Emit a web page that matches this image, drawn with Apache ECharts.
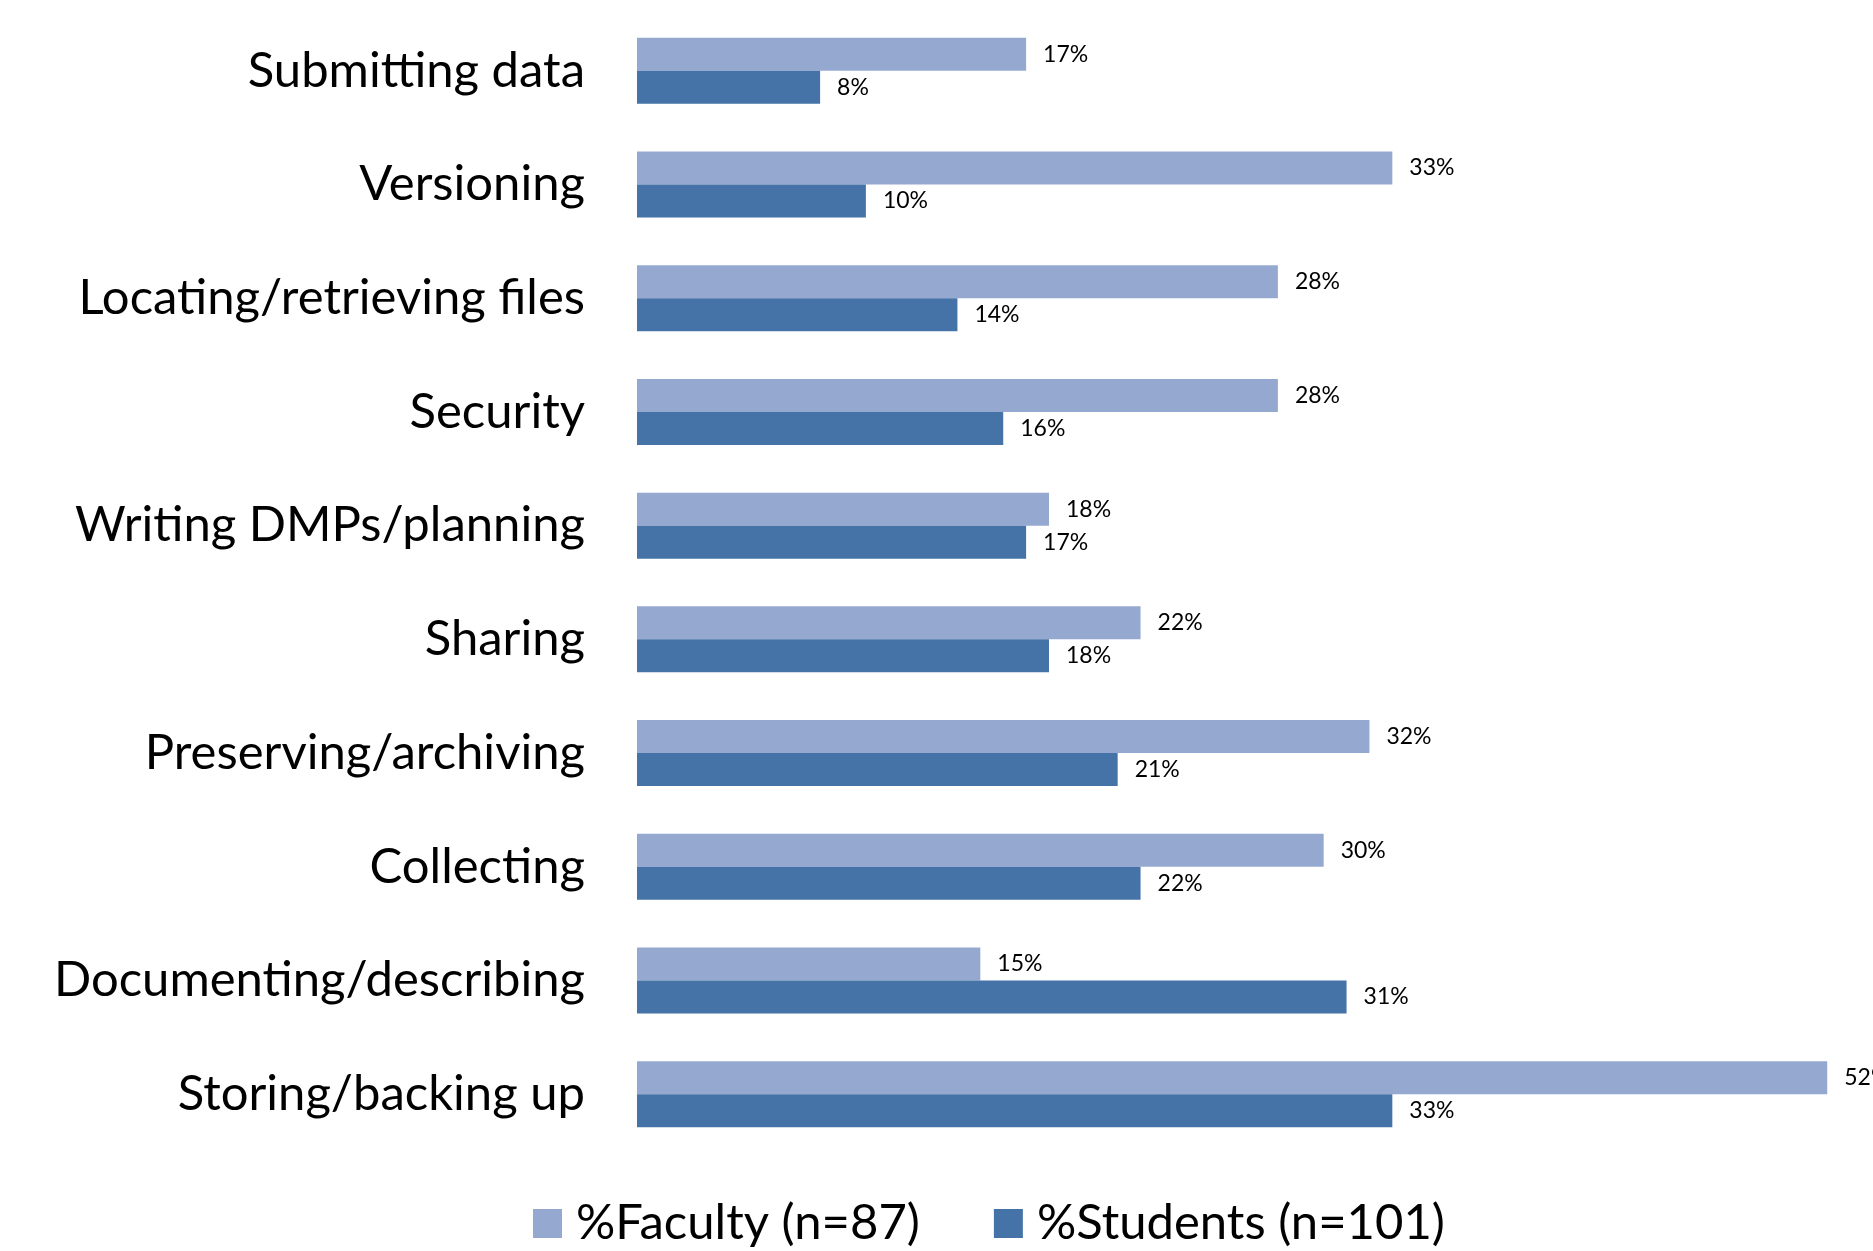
<!DOCTYPE html>
<html>
<head>
<meta charset="utf-8">
<script src="https://cdn.jsdelivr.net/npm/echarts@6/dist/echarts.min.js"></script>
<style>
  html, body { margin: 0; padding: 0; background: #fff; }
  #chart { width: 1873px; height: 1251px; }
</style>
</head>
<body>
<div id="chart"></div>
<script>
// 数据
const categories = ['Submitting data', 'Versioning', 'Locating/retrieving files', 'Security', 'Writing DMPs/planning', 'Sharing', 'Preserving/archiving', 'Collecting', 'Documenting/describing', 'Storing/backing up'];
const faculty = [17, 33, 28, 28, 18, 22, 32, 30, 15, 52];
const students = [8, 10, 14, 16, 17, 18, 21, 22, 31, 33];
const seriesNames = ['%Faculty (n=87)', '%Students (n=101)'];

const myChart = echarts.init(document.getElementById('chart'));

const valueLabel = {
  show: true,
  position: 'right',
  distance: 17,
  formatter: '{c}%',
  color: '#000',
  fontFamily: 'Lato',
  fontSize: 23
};

myChart.setOption({
  animation: false,
  color: ['#95a9d0', '#4573a7'],
  grid: {
    left: 637,
    right: 0,
    top: 14,
    bottom: 100,
    containLabel: false
  },
  legend: {
    data: seriesNames,
    left: 528,
    top: 1194,
    itemWidth: 29,
    itemHeight: 29,
    itemGap: 74,
    icon: 'rect',
    textStyle: {
      color: '#000',
      fontFamily: 'Lato',
      fontSize: 49,
      padding: [0, 0, 0, 9]
    }
  },
  xAxis: {
    type: 'value',
    min: 0,
    max: 54,
    show: false
  },
  yAxis: {
    type: 'category',
    inverse: true,
    data: categories,
    axisLine: { show: false },
    axisTick: { show: false },
    axisLabel: {
      margin: 52,
      color: '#000',
      fontFamily: 'Lato',
      fontSize: 49
    }
  },
  series: [
    {
      name: seriesNames[0],
      type: 'bar',
      barWidth: 33,
      barGap: '0%',
      label: valueLabel,
      data: faculty
    },
    {
      name: seriesNames[1],
      type: 'bar',
      barWidth: 33,
      barGap: '0%',
      label: valueLabel,
      data: students
    }
  ]
});
</script>
</body>
</html>
